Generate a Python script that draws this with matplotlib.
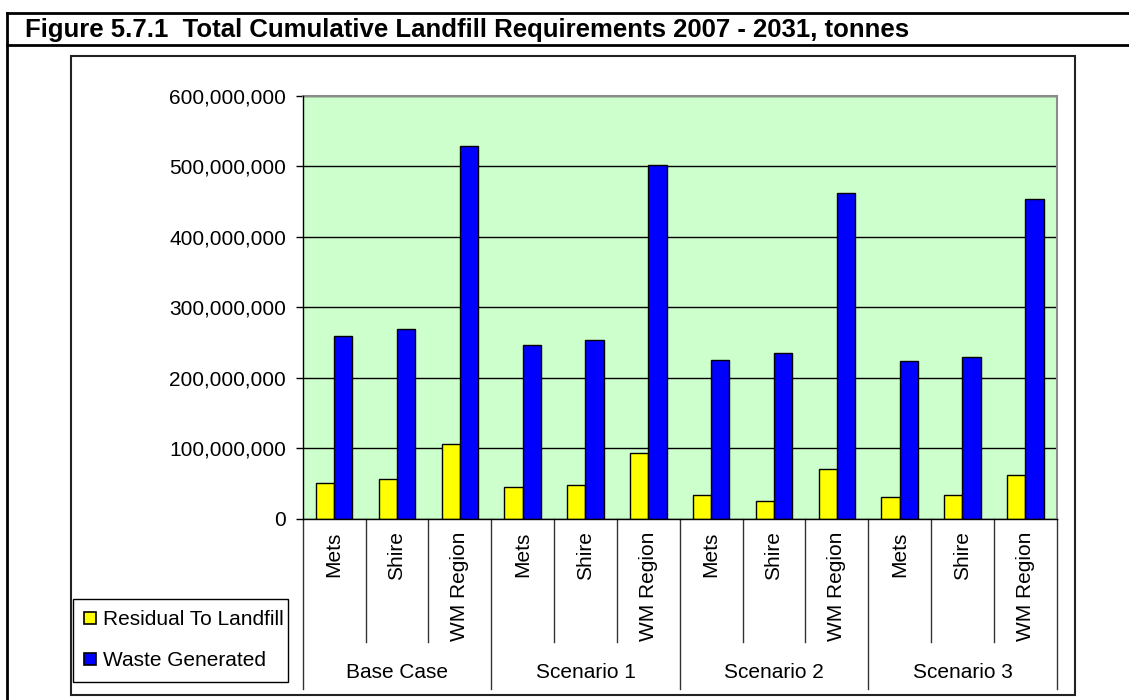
"""Figure 5.7.1 — total cumulative landfill requirements, grouped bars."""
import matplotlib
matplotlib.use("Agg")
import matplotlib.pyplot as plt
import numpy as np
from matplotlib.lines import Line2D
from matplotlib.patches import Rectangle, Patch
from matplotlib.ticker import FuncFormatter, MultipleLocator

plt.rcParams["font.family"] = ["Liberation Sans", "DejaVu Sans"]

# ── data (tonnes) ──────────────────────────────────────────────────────────
groups = ["Base Case", "Scenario 1", "Scenario 2", "Scenario 3"]
areas = ["Mets", "Shire", "WM Region"]
residual = [51e6, 56e6, 107e6, 45e6, 48e6, 93e6, 34e6, 25e6, 71e6, 31e6, 34e6, 62e6]
waste = [260e6, 269e6, 528e6, 246e6, 254e6, 502e6, 226e6, 235e6, 462e6, 224e6, 229e6, 453e6]

YELLOW, BLUE, PLOTBG = "#ffff00", "#0000ff", "#ccffcc"
FS = 15

W, H = 1129, 700
fig = plt.figure(figsize=(W / 100, H / 100), dpi=100)


def fx(px):
    return px / W


def fy(py):            # pixel from top -> figure fraction
    return 1 - py / H


# ── frame round the figure title (table cell look) ─────────────────────────
for y in (12.7, 44.5):
    fig.add_artist(Line2D([fx(7), 1.0], [fy(y), fy(y)], color="black", lw=2))
fig.add_artist(Line2D([fx(7), fx(7)], [fy(12.7), 0.0], color="black", lw=2))
fig.text(fx(25), fy(37), "Figure 5.7.1  Total Cumulative Landfill Requirements 2007 - 2031, tonnes",
         fontsize=18.5, fontweight="bold", va="baseline", ha="left")

# chart area border
fig.add_artist(Rectangle((fx(70.7), fy(695)), fx(1075) - fx(70.7), fy(55.7) - fy(695),
                         transform=fig.transFigure, fill=False, ec="#222222", lw=1.5))

# ── plot ───────────────────────────────────────────────────────────────────
ax = fig.add_axes([fx(302.7), fy(519), fx(1056.7) - fx(302.7), fy(95.7) - fy(519)])
ax.set_facecolor(PLOTBG)

x = np.arange(len(residual))
bw = 0.29
ax.bar(x - bw / 2, residual, bw, color=YELLOW, edgecolor="black", lw=1, zorder=3,
       label="Residual To Landfill")
ax.bar(x + bw / 2, waste, bw, color=BLUE, edgecolor="black", lw=1, zorder=3,
       label="Waste Generated")

ax.set_xlim(-0.5, len(x) - 0.5)
ax.set_ylim(0, 600e6)
ax.yaxis.set_major_locator(MultipleLocator(100e6))
ax.yaxis.set_major_formatter(FuncFormatter(lambda v, _: f"{v:,.0f}"))
ax.yaxis.grid(True, color="black", lw=1, zorder=1)
ax.tick_params(axis="y", direction="out", length=5, width=1, pad=7, labelsize=FS)

for s in ("top", "right"):
    ax.spines[s].set_color("#8c8c8c")
    ax.spines[s].set_linewidth(1.5)
for s in ("left", "bottom"):
    ax.spines[s].set_color("black")
    ax.spines[s].set_linewidth(1)
    ax.spines[s].set_zorder(4)

# inner category labels (rotated) and group labels
ax.set_xticks(x, areas * len(groups), rotation=90, va="top", ha="center")
ax.tick_params(axis="x", length=0, pad=9, labelsize=FS)

tr = ax.get_xaxis_transform()
ax_h = 519 - 95.7
for k in range(len(x) + 1):
    y1 = -(689.3 - 519) / ax_h if k % 3 == 0 else -(641.7 - 519) / ax_h
    ax.plot([k - 0.5, k - 0.5], [0, y1], color="#333333", lw=1, transform=tr, clip_on=False)
for g, name in enumerate(groups):
    ax.text(3 * g + 1, -(672 - 519) / ax_h, name, transform=tr, ha="center", va="center",
            fontsize=FS)

# ── legend ─────────────────────────────────────────────────────────────────
handles = [Patch(fc=YELLOW, ec="black", lw=1.2), Patch(fc=BLUE, ec="black", lw=1.2)]
fig.legend(handles, ["Residual To Landfill", "Waste Generated"],
           loc="lower left", bbox_to_anchor=(fx(72.7), fy(681.7), fx(288.3) - fx(72.7), 0.1),
           mode="expand", borderaxespad=0, fontsize=FS, handlelength=0.55, handleheight=0.55,
           handletextpad=0.35, labelspacing=1.05, borderpad=0.55, fancybox=False,
           edgecolor="black", framealpha=1)

fig.savefig("out.png", dpi=100, facecolor="white")
